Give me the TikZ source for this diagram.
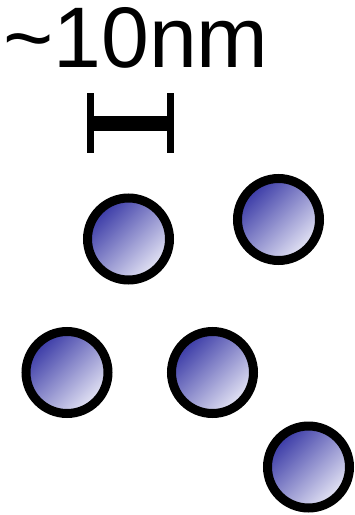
\documentclass[tikz,border=0pt]{standalone}
\usepackage{fontspec}
\setmainfont{Liberation Sans}
\usetikzlibrary{positioning}
\definecolor{dotdark}{RGB}{55,55,165}
\definecolor{dotlight}{RGB}{232,232,246}
\tikzset{
    particle/.style={circle, draw=black, line width=9pt, minimum size=82pt,
    inner sep=0pt, outer sep=0pt, top color=dotdark, bottom color=dotlight,
    shading angle=45},
    scalelabel/.style={font=\fontsize{86}{86}\selectfont, anchor=base west, inner sep=0pt},
    bartick/.style={line width=7.5pt},
    barline/.style={line width=15pt},
}
\begin{document}
\begin{tikzpicture}[x=1pt, y=-1pt]
    \useasboundingbox (0,0) rectangle (355,515);
    % --- scale label and bar ---
    \node[scalelabel] (label) at (3,67) {\textasciitilde10nm};
    \coordinate (barL) at (90.5,123);
    \coordinate (barR) at (170.5,123);
    \draw[barline] (barL) -- (barR);
    \draw[bartick] (barL) ++(0,-30) -- ++(0,60);
    \draw[bartick] (barR) ++(0,-30) -- ++(0,60);
    % --- particles ---
    \node[particle] (p1) at (128.5,239) {};
    \node[particle] (p2) at (278.5,219.5) {};
    \node[particle] (p3) at (67,372.5) {};
    \node[particle] (p4) at (212.5,372.5) {};
    \node[particle] (p5) at (308.5,467) {};
\end{tikzpicture}
\end{document}
